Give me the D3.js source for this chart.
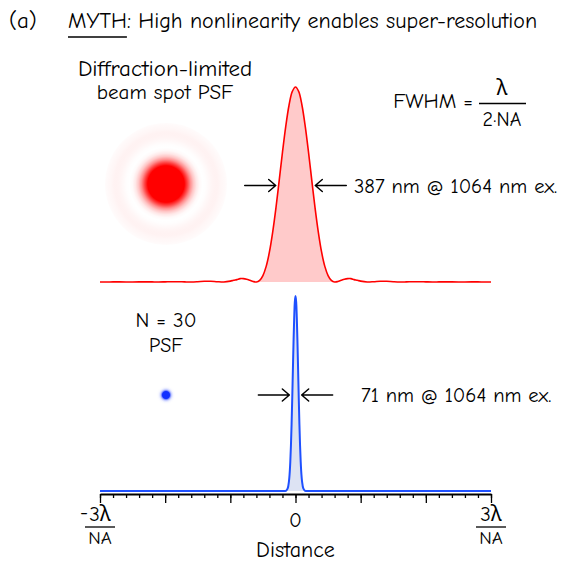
<!DOCTYPE html>
<html>
<head>
<meta charset="utf-8">
<script src="https://cdn.jsdelivr.net/npm/d3@7"></script>
<style>
  body { margin: 0; background: #fff; }
  text { font-family: 'Comic Sans MS', 'Comic Neue', 'Noto Sans', sans-serif; fill: #000; }
</style>
</head>
<body>
<div id="chart"></div>
<script>
// distance in units of lambda/NA, intensity normalised to the peak
var distRed = [-3.0, -2.9, -2.8, -2.7, -2.6, -2.5, -2.4, -2.3, -2.2, -2.1, -2.0, -1.9, -1.8, -1.7, -1.6, -1.5, -1.4, -1.3, -1.2, -1.1,
  -1.0, -0.95, -0.9, -0.85, -0.8, -0.75, -0.7, -0.65, -0.6, -0.55, -0.5, -0.45, -0.4, -0.35, -0.3, -0.25, -0.2, -0.15, -0.1, -0.05,
  0, 0.05, 0.1, 0.15, 0.2, 0.25, 0.3, 0.35, 0.4, 0.45, 0.5, 0.55, 0.6, 0.65, 0.7, 0.75, 0.8, 0.85, 0.9, 0.95,
  1.0, 1.1, 1.2, 1.3, 1.4, 1.5, 1.6, 1.7, 1.8, 1.9, 2.0, 2.1, 2.2, 2.3, 2.4, 2.5, 2.6, 2.7, 2.8, 2.9, 3.0]
var psfRed = [0.0001, 0.0001, 0.0004, 0.0004, 0.0001, 0.0001, 0.0006, 0.0008, 0.0004, 0.0000, 0.0007, 0.0015, 0.0014, 0.0005, 0.0000, 0.0014, 0.0035, 0.0040, 0.0015, 0.0001,
  0.0046, 0.0089, 0.0123, 0.0172, 0.0173, 0.0141, 0.0085, 0.0025, 0.000, 0.008, 0.033, 0.080, 0.154, 0.256, 0.380, 0.521, 0.665, 0.797, 0.905, 0.976,
  1.000, 0.976, 0.905, 0.797, 0.665, 0.521, 0.380, 0.256, 0.154, 0.080, 0.033, 0.008, 0.000, 0.0025, 0.0085, 0.0141, 0.0173, 0.0172, 0.0123, 0.0089,
  0.0046, 0.0001, 0.0015, 0.0040, 0.0035, 0.0014, 0.0000, 0.0005, 0.0014, 0.0015, 0.0007, 0.0000, 0.0004, 0.0008, 0.0006, 0.0001, 0.0001, 0.0004, 0.0004, 0.0001, 0.0001]

var distBlue = [-3.0, -2.5, -2.0, -1.5, -1.0, -0.5, -0.3, -0.2, -0.16, -0.14, -0.12, -0.1, -0.09, -0.08, -0.07, -0.06, -0.05, -0.04, -0.03, -0.02, -0.01,
  0, 0.01, 0.02, 0.03, 0.04, 0.05, 0.06, 0.07, 0.08, 0.09, 0.1, 0.12, 0.14, 0.16, 0.2, 0.3, 0.5, 1.0, 1.5, 2.0, 2.5, 3.0]
var psfBlue = [0, 0, 0, 0, 0, 0, 0, 0, 0.000, 0.003, 0.013, 0.051, 0.089, 0.149, 0.233, 0.343, 0.476, 0.622, 0.766, 0.888, 0.971,
  1.000, 0.971, 0.888, 0.766, 0.622, 0.476, 0.343, 0.233, 0.149, 0.089, 0.051, 0.013, 0.003, 0.000, 0, 0, 0, 0, 0, 0, 0, 0]

var majorTicks = [-3, -2, -1, 0, 1, 2, 3]
var tickLabelAt = [-3, 0, 3]
var tickLabelTop = ["3λ", "0", "3λ"]
var tickLabelSign = ["-", "", ""]
var tickLabelBottom = ["NA", "", "NA"]

var redData = distRed.map(function (d, i) { return { x: d, y: psfRed[i] } })
var blueData = distBlue.map(function (d, i) { return { x: d, y: psfBlue[i] } })

var width = 566, height = 562

var svg = d3.select("#chart")
  .append("svg")
  .attr("width", width)
  .attr("height", height)

var x = d3.scaleLinear().domain([-3, 3]).range([100, 491])
var yRed = d3.scaleLinear().domain([0, 1]).range([282, 87])
var yBlue = d3.scaleLinear().domain([0, 1]).range([491, 296])

// ---- title
svg.append("text").attr("x", 9).attr("y", 28).attr("font-size", 23).text("(a)")
var myth = svg.append("text").attr("x", 68).attr("y", 28).attr("font-size", 22).text("MYTH")
var mythW = myth.node().getComputedTextLength()
svg.append("line")
  .attr("x1", 68).attr("x2", 68 + mythW)
  .attr("y1", 37).attr("y2", 37)
  .attr("stroke", "#000").attr("stroke-width", 1.5)
svg.append("text").attr("x", 68 + mythW).attr("y", 28).attr("font-size", 22)
  .text(": High nonlinearity enables super-resolution")

// ---- spot images, built from the profiles
var defs = svg.append("defs")
var spotScale = 61 // px per lambda/NA in the spot images
var opacity = d3.scaleLinear().domain([0, 0.35]).range([0, 1]).clamp(true)

function spot(id, data, maxR, color, cx, cy) {
  var grad = defs.append("radialGradient").attr("id", id)
    .attr("cx", 0.5).attr("cy", 0.5).attr("r", 0.5)
  data.filter(function (d) { return d.x >= 0 && d.x <= maxR })
    .forEach(function (d) {
      grad.append("stop")
        .attr("offset", d.x / maxR)
        .attr("stop-color", color)
        .attr("stop-opacity", opacity(d.y))
    })
  svg.append("circle")
    .attr("cx", cx).attr("cy", cy)
    .attr("r", maxR * spotScale)
    .attr("fill", "url(#" + id + ")")
}
spot("spotRed", redData, 1.0, "#ff0000", 166, 184)
spot("spotBlue", blueData, 0.16, "#1030ff", 166, 395)

// ---- profiles
function drawProfile(data, y, cut, fill, stroke, sw) {
  var area = d3.area()
    .x(function (d) { return x(d.x) })
    .y0(y(0))
    .y1(function (d) { return y(d.y) })
    .curve(d3.curveCatmullRom)
  svg.append("path")
    .datum(data.filter(function (d) { return Math.abs(d.x) <= cut }))
    .attr("d", area)
    .attr("fill", fill)
  var line = d3.line()
    .x(function (d) { return x(d.x) })
    .y(function (d) { return y(d.y) })
    .curve(d3.curveCatmullRom)
  svg.append("path")
    .datum(data)
    .attr("d", line)
    .attr("fill", "none")
    .attr("stroke", stroke)
    .attr("stroke-width", sw)
    .attr("stroke-linejoin", "round")
}
drawProfile(redData, yRed, 0.6, "#ffcaca", "#ff0000", 1.6)
drawProfile(blueData, yBlue, 0.16, "#dde3f3", "#1e50ff", 2)

// half-max crossing on the positive side
function halfWidth(data) {
  var pos = data.filter(function (d) { return d.x >= 0 })
  for (var i = 1; i < pos.length; i++) {
    if (pos[i].y < 0.5) {
      var a = pos[i - 1], b = pos[i]
      return a.x + (a.y - 0.5) / (a.y - b.y) * (b.x - a.x)
    }
  }
}

function arrows(data, y, yPix) {
  var hw = halfWidth(data)
  var l = x(-hw) - 3, r = x(hw) + 3, len = 31
  var g = svg.append("g").attr("fill", "none").attr("stroke", "#000")
    .attr("stroke-width", 1.5).attr("stroke-linecap", "round").attr("stroke-linejoin", "round")
  g.append("path").attr("d", "M" + (l - len) + "," + yPix + "H" + l +
    "M" + (l - 7) + "," + (yPix - 6) + "L" + l + "," + yPix + "L" + (l - 7) + "," + (yPix + 6))
  g.append("path").attr("d", "M" + (r + len) + "," + yPix + "H" + r +
    "M" + (r + 7) + "," + (yPix - 6) + "L" + r + "," + yPix + "L" + (r + 7) + "," + (yPix + 6))
}
arrows(redData, yRed, yRed(0.5) + 1)
arrows(blueData, yBlue, 395)

svg.append("text").attr("x", 354).attr("y", 193).attr("font-size", 20.5).text("387 nm @ 1064 nm ex.")
svg.append("text").attr("x", 361).attr("y", 402).attr("font-size", 20.5).text("71 nm @ 1064 nm ex.")

// ---- labels
svg.append("text").attr("x", 165).attr("y", 76).attr("font-size", 23).attr("text-anchor", "middle").text("Diffraction-limited")
svg.append("text").attr("x", 165).attr("y", 99).attr("font-size", 21).attr("text-anchor", "middle").text("beam spot PSF")
svg.append("text").attr("x", 166).attr("y", 327).attr("font-size", 21).attr("text-anchor", "middle").text("N = 30")
svg.append("text").attr("x", 166).attr("y", 352).attr("font-size", 20).attr("text-anchor", "middle").text("PSF")

// FWHM formula
svg.append("text").attr("x", 473).attr("y", 108).attr("font-size", 21).attr("text-anchor", "end").text("FWHM =")
svg.append("text").attr("x", 502).attr("y", 95).attr("font-size", 21).attr("text-anchor", "middle").text("λ")
svg.append("line").attr("x1", 479).attr("x2", 526).attr("y1", 103.5).attr("y2", 103.5)
  .attr("stroke", "#000").attr("stroke-width", 1.3)
svg.append("text").attr("x", 502).attr("y", 126).attr("font-size", 20).attr("text-anchor", "middle").text("2·NA")

// ---- axis
var axisY = 494
var minorAxis = svg.append("g").attr("transform", "translate(0," + axisY + ")")
  .call(d3.axisBottom(x).tickValues(x.ticks(30)).tickSize(4).tickSizeOuter(0).tickFormat(""))
var majorAxis = svg.append("g").attr("transform", "translate(0," + axisY + ")")
  .call(d3.axisBottom(x).tickValues(majorTicks).tickSize(9).tickSizeOuter(0).tickFormat(""))
minorAxis.select(".domain").remove()
svg.selectAll(".tick line").attr("stroke-width", 1.3)
majorAxis.select(".domain").attr("stroke-width", 2)

tickLabelAt.forEach(function (v, i) {
  var cx = x(v)
  if (tickLabelBottom[i] === "") {
    svg.append("text").attr("x", cx).attr("y", 527).attr("font-size", 21)
      .attr("text-anchor", "middle").text(tickLabelTop[i])
    return
  }
  svg.append("text").attr("x", cx).attr("y", 521).attr("font-size", 21)
    .attr("text-anchor", "middle").text(tickLabelTop[i])
  if (tickLabelSign[i] !== "") {
    svg.append("text").attr("x", cx - 12).attr("y", 519).attr("font-size", 20)
      .attr("text-anchor", "end").text(tickLabelSign[i])
  }
  svg.append("line").attr("x1", cx - 15).attr("x2", cx + 15).attr("y1", 527).attr("y2", 527)
    .attr("stroke", "#000").attr("stroke-width", 1.3)
  svg.append("text").attr("x", cx).attr("y", 544).attr("font-size", 19)
    .attr("text-anchor", "middle").text(tickLabelBottom[i])
})

svg.append("text").attr("x", x(0)).attr("y", 557).attr("font-size", 22)
  .attr("text-anchor", "middle").text("Distance")
</script>
</body>
</html>
